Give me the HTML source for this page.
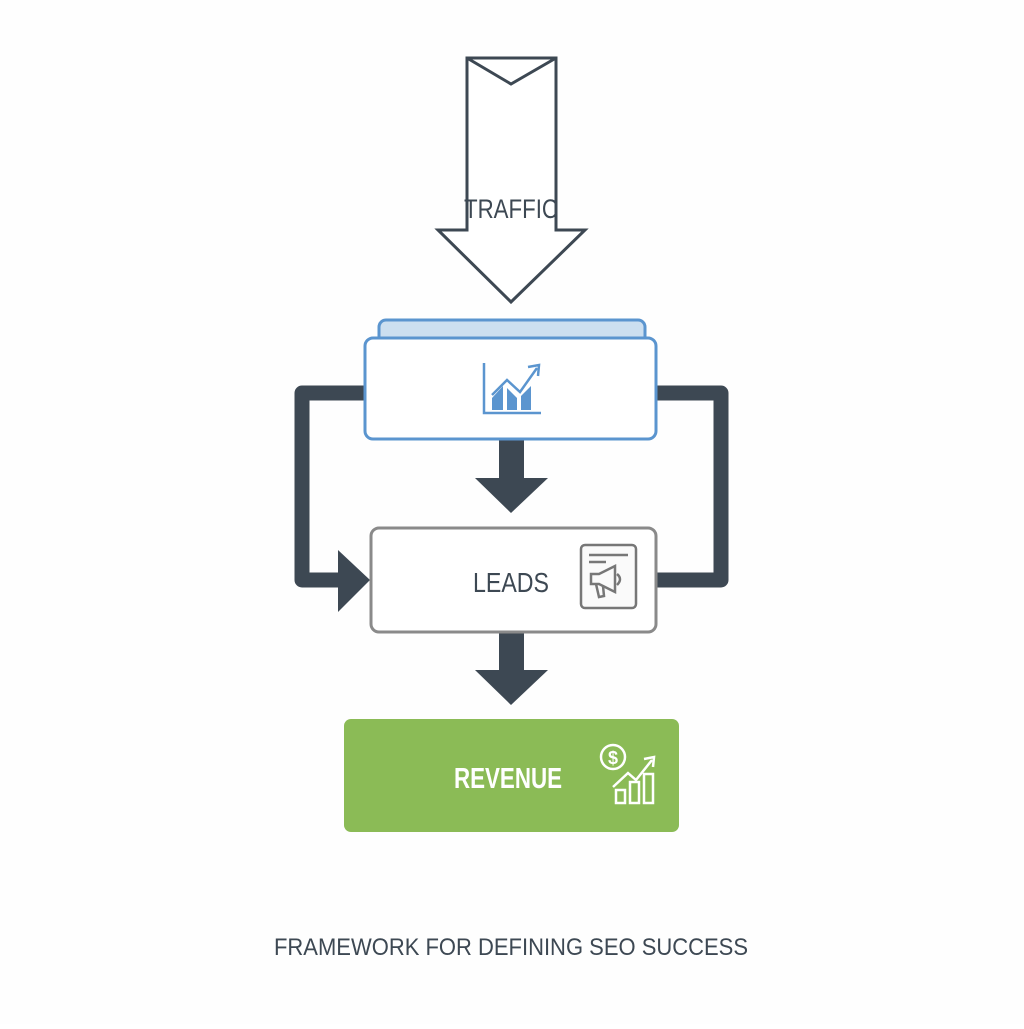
<!DOCTYPE html>
<html><head><style>
body{margin:0;width:1024px;height:1024px;background:#fff;overflow:hidden}
</style></head><body>
<svg width="1024" height="1024" viewBox="0 0 1024 1024" xmlns="http://www.w3.org/2000/svg">
<rect width="1024" height="1024" fill="#fefefe"/>
<!-- traffic arrow -->
<path d="M467,58 L556,58 L556,230 L585,230 L511,302 L438,230 L467,230 Z" fill="#fff" stroke="#3d4853" stroke-width="3" stroke-linejoin="miter"/>
<path d="M467,58 L511,84 L556,58" fill="none" stroke="#3d4853" stroke-width="3"/>
<text x="511" y="218" text-anchor="middle" font-family="Liberation Sans, sans-serif" font-size="27" fill="#3d4853" textLength="94" lengthAdjust="spacingAndGlyphs">TRAFFIC</text>
<!-- loops -->
<path d="M365,393 L302,393 L302,580 L340,580" fill="none" stroke="#3d4853" stroke-width="15" stroke-linejoin="round"/>
<path d="M338,550 L370,580 L338,612 Z" fill="#3d4853"/>
<path d="M655,393 L721,393 L721,580 L655,580" fill="none" stroke="#3d4853" stroke-width="15" stroke-linejoin="round"/>
<!-- down arrows -->
<rect x="499" y="440" width="25" height="40" fill="#3d4853"/>
<path d="M475,478 L548,478 L511,513 Z" fill="#3d4853"/>
<rect x="499" y="632" width="25" height="40" fill="#3d4853"/>
<path d="M475,670 L548,670 L511,705 Z" fill="#3d4853"/>
<!-- top box -->
<rect x="379" y="320" width="266" height="30" rx="7" fill="#ccdff0" stroke="#5b95cf" stroke-width="3"/>
<rect x="365" y="338" width="291" height="101" rx="8" fill="#fff" stroke="#5b95cf" stroke-width="3"/>
<g stroke="#5b95cf" stroke-width="2.5" fill="none">
<path d="M484,363 L484,413 L541,413"/>
<path d="M492,395 L507,380 L520,392 L537,368"/>
<path d="M528,367 L539,365 L538,376"/>
</g>
<g fill="#5b95cf">
<path d="M492,410 L492,398 L503,386 L503,410 Z"/>
<path d="M507,410 L507,388 L517,398 L517,410 Z"/>
<path d="M521,410 L521,396 L531,386 L531,410 Z"/>
</g>
<!-- leads -->
<rect x="371" y="528" width="285" height="104" rx="8" fill="#fff" stroke="#8a8a8a" stroke-width="3"/>
<text x="511" y="592" text-anchor="middle" font-family="Liberation Sans, sans-serif" font-size="28" fill="#3d4853" textLength="76" lengthAdjust="spacingAndGlyphs">LEADS</text>
<rect x="581" y="545" width="55" height="63" rx="4" fill="#fafafa" stroke="#777" stroke-width="2.5"/>
<g stroke="#777" stroke-width="2.5" fill="none">
<path d="M589,555 L628,555 M589,562 L606,562"/>
<path d="M591,574 L599,574 L615,566 L615,592 L599,584 L591,584 Z"/>
<path d="M596,584 L599,597 L604,596 L603,586"/>
<path d="M617,574 Q623,579 617,585"/>
</g>
<!-- revenue -->
<rect x="344" y="719" width="335" height="113" rx="7" fill="#8bbb56"/>
<text x="508" y="788" text-anchor="middle" font-family="Liberation Sans, sans-serif" font-weight="bold" font-size="29" fill="#fff" textLength="108" lengthAdjust="spacingAndGlyphs">REVENUE</text>
<circle cx="613" cy="757" r="12" fill="none" stroke="#fff" stroke-width="2.5"/>
<text x="613" y="764" text-anchor="middle" font-family="Liberation Sans, sans-serif" font-weight="bold" font-size="18" fill="#fff">$</text>
<g stroke="#fff" stroke-width="2.5" fill="none">
<path d="M613,787 L628,773 L636,780 L652,760"/>
<path d="M644,759 L654,757 L653,767"/>
<rect x="616" y="790" width="9" height="13"/>
<rect x="630" y="782" width="9" height="21"/>
<rect x="644" y="774" width="9" height="29"/>
</g>
<text x="511" y="955" text-anchor="middle" font-family="Liberation Sans, sans-serif" font-size="24" fill="#3d4853" textLength="474" lengthAdjust="spacingAndGlyphs">FRAMEWORK FOR DEFINING SEO SUCCESS</text>
</svg>
</body></html>
